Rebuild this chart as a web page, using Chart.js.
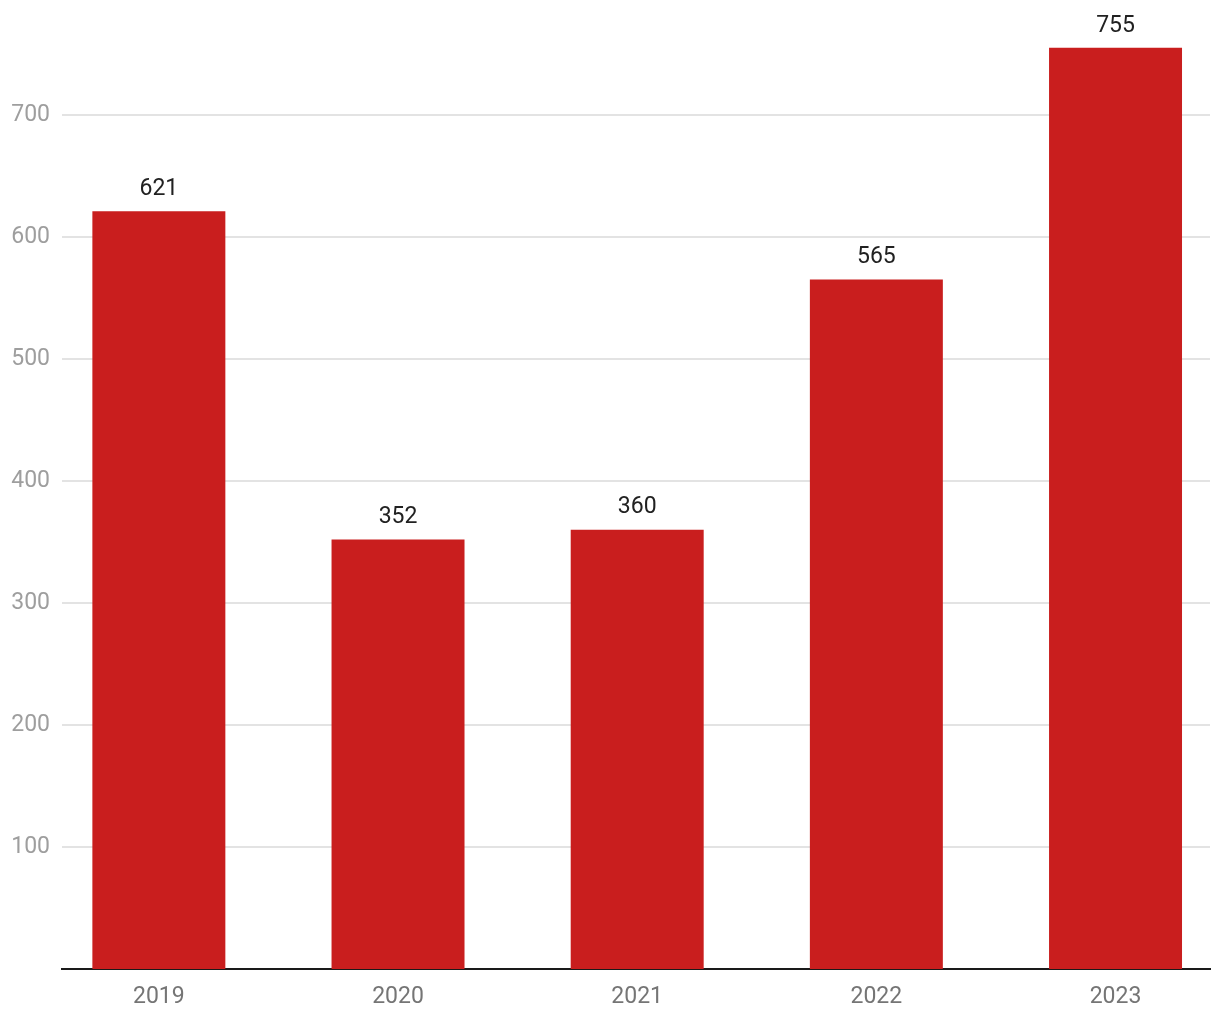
<!DOCTYPE html>
<html>
<head>
<meta charset="utf-8">
<script src="https://cdn.jsdelivr.net/npm/chart.js@4"></script>
<style>
    html, body { margin: 0; padding: 0; background: #fff; }
    #wrap { width: 1220px; height: 1020px; }
</style>
</head>
<body>
<div id="wrap"><canvas id="chart" width="1220" height="1020"></canvas></div>
<script>
const years = ['2019', '2020', '2021', '2022', '2023'];
const values = [621, 352, 360, 565, 755];
const yTicks = [100, 200, 300, 400, 500, 600, 700];

// Value labels above each bar
const barLabels = {
    id: 'barLabels',
    afterDatasetsDraw(chart) {
        const ctx = chart.ctx;
        const meta = chart.getDatasetMeta(0);
        ctx.save();
        ctx.font = '23px Roboto';
        ctx.fillStyle = '#212121';
        ctx.textAlign = 'center';
        ctx.textBaseline = 'middle';
        meta.data.forEach((bar, i) => {
            ctx.fillText(values[i], bar.x, bar.y - 22);
        });
        ctx.restore();
    }
};

new Chart(document.getElementById('chart'), {
    type: 'bar',
    data: {
        datasets: [{
            data: values.map((v, i) => ({ x: i, y: v })),
            backgroundColor: '#c91e1e',
            borderWidth: 0,
            barPercentage: 0.556,
            categoryPercentage: 1
        }]
    },
    options: {
        responsive: false,
        animation: false,
        layout: { padding: { top: 5, right: 10, left: 0, bottom: 0 } },
        plugins: {
            legend: { display: false },
            tooltip: { enabled: false }
        },
        scales: {
            x: {
                type: 'linear',
                min: -0.405,
                max: 4.395,
                offset: false,
                z: 1,
                afterBuildTicks: axis => {
                    axis.ticks = years.map((_, i) => ({ value: i }));
                },
                afterFit: axis => { axis.height = 51; },
                ticks: {
                    callback: v => years[v],
                    color: '#757575',
                    font: { family: 'Roboto', size: 23 },
                    padding: 14,
                    maxRotation: 0
                },
                grid: { display: false, drawTicks: false },
                border: { display: true, color: '#1a1a1a', width: 2 }
            },
            y: {
                min: 0,
                max: 773,
                afterBuildTicks: axis => {
                    axis.ticks = yTicks.map(v => ({ value: v }));
                },
                afterFit: axis => { axis.width = 62; },
                ticks: {
                    color: '#9e9e9e',
                    font: { family: 'Roboto', size: 23 },
                    padding: 12
                },
                grid: { color: '#e3e3e3', lineWidth: 2, drawTicks: false },
                border: { display: false }
            }
        }
    },
    plugins: [barLabels]
});
</script>
</body>
</html>
